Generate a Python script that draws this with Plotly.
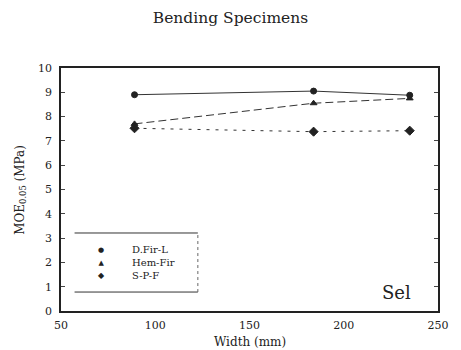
import plotly.graph_objects as go

widths = [89, 184, 235]
dfir = [8.9, 9.05, 8.88]
hemfir = [7.7, 8.55, 8.75]
spf = [7.52, 7.38, 7.42]
names = ["D.Fir-L", "Hem-Fir", "S-P-F"]
legend_symbols = ["●", "▲", "◆"]
x_ticks = [50, 100, 150, 200, 250]
y_ticks = list(range(0, 11))

FONT = "DejaVu Serif"
INK = "#222222"
fig = go.Figure()

series = [
    (dfir, "solid", "circle", 6),
    (hemfir, "8px,4px", "triangle-up", 6),
    (spf, "3px,6px", "diamond", 7),
]
for (vals, dash, sym, sz), nm in zip(series, names):
    fig.add_trace(go.Scatter(
        x=widths, y=vals, mode="lines+markers", name=nm, showlegend=False,
        line=dict(color="#333333", width=1, dash=dash),
        marker=dict(symbol=sym, size=sz, color=INK, line=dict(color=INK, width=1)),
    ))

fig.update_layout(
    width=461, height=350,
    margin=dict(l=61, r=12, t=68, b=39),
    paper_bgcolor="white", plot_bgcolor="white",
    font=dict(family=FONT, size=11, color=INK),
    title=dict(text="Bending Specimens", x=0.5, xanchor="center", y=0.949,
               yanchor="middle", font=dict(family=FONT, size=15.5, color=INK)),
    showlegend=False,
)
fig.update_xaxes(
    range=[50, 250], tickvals=x_ticks, ticks="", ticklabelstandoff=3,
    showline=True, linecolor=INK, linewidth=1.5, mirror=True,
    showgrid=False, zeroline=False, tickfont=dict(family=FONT, size=11),
)
fig.update_yaxes(
    range=[0, 10], tickvals=y_ticks, ticks="inside", ticklen=4,
    showline=True, linecolor=INK, linewidth=1.5, mirror="ticks",
    showgrid=False, zeroline=False, tickfont=dict(family=FONT, size=11),
    ticklabelstandoff=5,
)
fig.add_annotation(text="Width (mm)", xref="paper", yref="paper",
                   x=0.5, y=-0.128, showarrow=False,
                   xanchor="center", yanchor="middle",
                   font=dict(family=FONT, size=12, color=INK))
fig.add_annotation(text="MOE<sub>0.05</sub> (MPa)", xref="paper", yref="paper",
                   x=-0.108, y=0.5, textangle=-90, showarrow=False,
                   xanchor="center", yanchor="middle",
                   font=dict(family=FONT, size=12, color=INK))

# legend box (drawn manually: top/bottom rules, dotted right edge)
lx0, lx1, ly0, ly1 = 0.036, 0.363, 0.078, 0.321
fig.add_shape(type="line", xref="paper", yref="paper", x0=lx0, x1=lx1, y0=ly1, y1=ly1,
              line=dict(color="#333333", width=1))
fig.add_shape(type="line", xref="paper", yref="paper", x0=lx0, x1=lx1, y0=ly0, y1=ly0,
              line=dict(color="#333333", width=1))
fig.add_shape(type="line", xref="paper", yref="paper", x0=lx1, x1=lx1, y0=ly0, y1=ly1,
              line=dict(color="#666666", width=1, dash="dot"))
sym_text = "<br>".join(
    f"<span style='font-size:{s}px'>{g}</span>" for g, s in zip(legend_symbols, [7, 7, 8])
)
fig.add_annotation(text=sym_text, xref="paper", yref="paper", x=0.108, y=0.198,
                   showarrow=False, xanchor="center", yanchor="middle", align="center",
                   font=dict(family="DejaVu Sans", size=10, color=INK))
fig.add_annotation(text="<br>".join(names), xref="paper", yref="paper", x=0.183, y=0.198,
                   showarrow=False, xanchor="left", yanchor="middle", align="left",
                   font=dict(family=FONT, size=10, color=INK))

fig.add_annotation(text="Sel", xref="paper", yref="paper", x=0.933, y=0.078,
                   xanchor="right", yanchor="middle", showarrow=False,
                   font=dict(family=FONT, size=18, color=INK))

fig.write_html(
    "out.html",
    config={"displayModeBar": False},
    post_script="document.body.style.margin='0';document.body.style.overflow='hidden';",
)
